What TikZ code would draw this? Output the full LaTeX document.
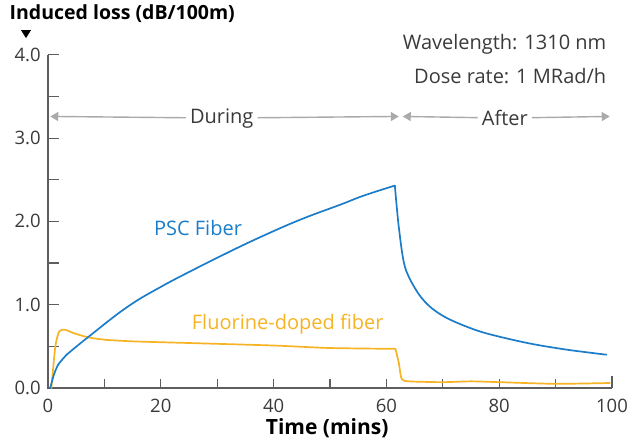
\documentclass[tikz,border=0pt]{standalone}
\usepackage{fontspec}
\setmainfont{Open Sans}
\usetikzlibrary{arrows.meta}
\definecolor{ink}{HTML}{3A3A3A}
\definecolor{axisgray}{HTML}{5E5E5E}
\definecolor{spangray}{HTML}{AAAAAA}
\definecolor{psc}{HTML}{1B7DC9}
\definecolor{fluor}{HTML}{F6B324}
\tikzset{
  axis/.style={draw=axisgray, line width=1.3pt},
  tick/.style={draw=axisgray, line width=1.1pt},
  span/.style={draw=spangray, line width=1.4pt, -{Triangle[length=8pt,width=9pt]}},
  pscline/.style={draw=psc, line width=1.7pt, line join=round, line cap=round},
  fluorline/.style={draw=fluor, line width=1.7pt, line join=round, line cap=round},
  lab/.style={text=ink, font=\fontsize{20}{24}\selectfont, inner sep=1pt},
  labt/.style={text=ink, font=\fontsize{18.5}{22}\selectfont, inner sep=1pt},
  labb/.style={text=black, font=\bfseries\fontsize{19.5}{23}\selectfont, inner sep=1pt},
  labc/.style={font=\fontsize{20}{24}\selectfont, inner sep=1pt},
}
\begin{document}
\begin{tikzpicture}[x=5.64pt, y=83.3pt]
  \useasboundingbox (-8.511,-0.6843) rectangle (104.965,4.6579);
  \coordinate (O) at (0,0);

  % axes
  \draw[axis] (0,4) -- (O) -- (100,0);
  \foreach \v in {0,0.5,...,4} \draw[tick] (0,\v) -- ++(11pt,0);
  \foreach \t in {10,20,...,90} \draw[tick] (\t,0) -- ++(0,9pt);
  \draw[tick] (100,0) -- ++(0,12pt);
  \foreach \v in {0,...,4} \node[labt, anchor=east] at (-1.1,\v) {\v.0};
  \foreach \t in {0,20,...,100} \node[labt] at (\t,-0.21) {\t};

  \node[labb, anchor=west] (ylab) at (-7.0,4.49) {Induced loss (dB/100m)};
  \coordinate (mark) at (-3.9,4.20);
  \fill[black] (mark) -- ++(-5pt,8pt) -- ++(10pt,0) -- cycle;
  \node[labb, font=\bfseries\fontsize{21}{24}\selectfont] (xlab) at (49.5,-0.48) {Time (mins)};

  \node[lab, anchor=east] (wave) at (99.2,4.13) {Wavelength: 1310 nm};
  \node[lab, anchor=east] (dose) at (99.2,3.74) {Dose rate: 1 MRad/h};

  % during / after spans
  \coordinate (durL) at (0.4,3.26);
  \coordinate (durR) at (62.2,3.26);
  \coordinate (aftL) at (62.9,3.26);
  \coordinate (aftR) at (99.6,3.26);
  \node[lab, fill=white, inner sep=4pt] (during) at (30.8,3.24) {During};
  \node[lab, fill=white, inner sep=4pt] (after) at (81,3.24) {After};
  \draw[span] (during) -- (durL);
  \draw[span] (during) -- (durR);
  \draw[span] (after) -- (aftL);
  \draw[span] (after) -- (aftR);

  % curves
  \draw[fluorline] plot[smooth, tension=0.4] coordinates {(0.6,0) (1.3,0.5) (2,0.68) (3,0.7) (4.5,0.66)
    (7,0.61) (10,0.58) (15,0.56) (25,0.54) (40,0.51) (50,0.48) (61.6,0.47)}
    -- plot[smooth, tension=0.4] coordinates {(61.6,0.47) (62.2,0.3) (62.7,0.11) (64,0.08)
    (70,0.07) (75,0.08) (80,0.07) (90,0.05) (99.6,0.06)};
  \draw[pscline] plot[smooth, tension=0.4] coordinates {(0.4,0) (1,0.15) (1.8,0.28) (3.3,0.4)}
    -- plot[smooth, tension=0.7] coordinates {(3.3,0.4)
    (7.1,0.61) (14,0.97) (19.9,1.21) (25.8,1.42) (31.7,1.62) (37.6,1.81) (44.7,2.02)
    (51.8,2.2) (56,2.31) (61.5,2.43)}
    -- plot[smooth, tension=0.5] coordinates {(61.5,2.43) (62.2,1.93) (63.3,1.45)
    (65.6,1.14) (68,0.96) (71.3,0.82) (77,0.67) (85,0.54) (92,0.46) (99,0.4)};

  \node[labc, text=psc] (psclab) at (26.6,1.92) {PSC Fiber};
  \node[labc, text=fluor] (fluorlab) at (42.5,0.76) {Fluorine-doped fiber};
\end{tikzpicture}
\end{document}
